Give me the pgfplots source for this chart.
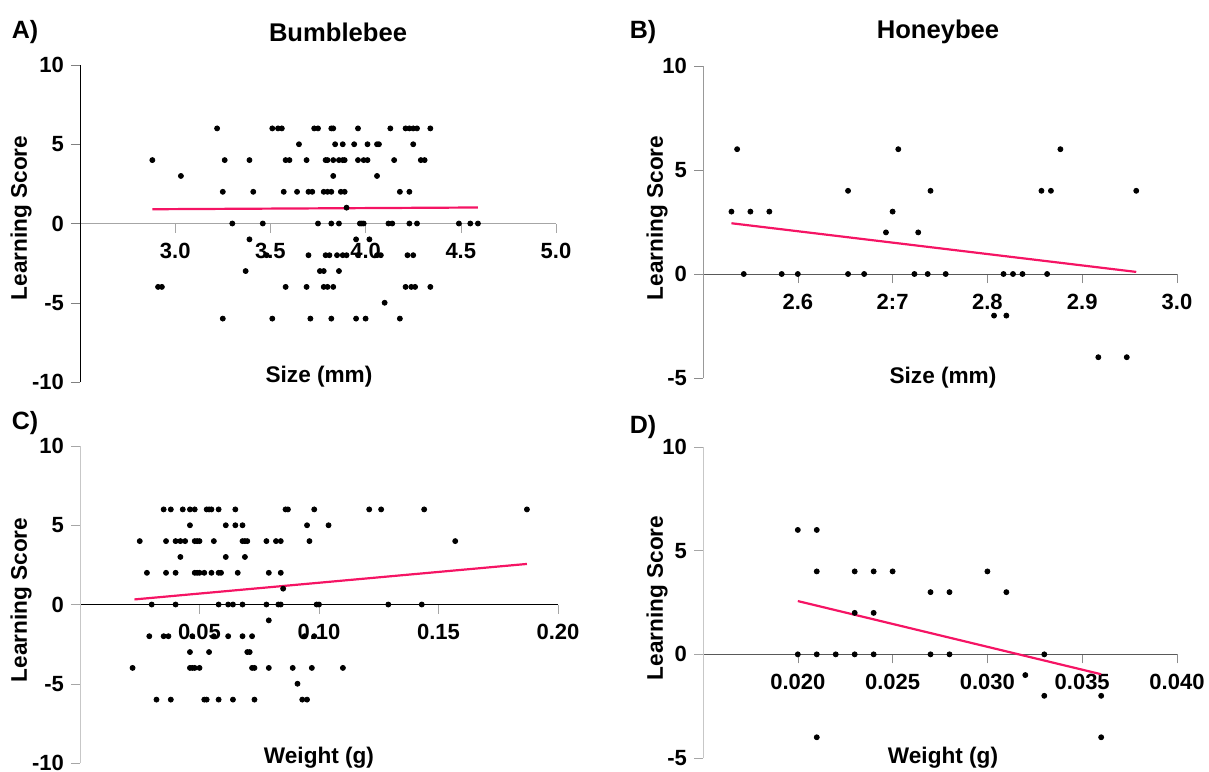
\documentclass[border=0pt]{standalone}
\usepackage{fontspec}
\setmainfont{Liberation Sans}
\usepackage{pgfplots}
\usepackage{pgfplotstable}
\pgfplotsset{compat=1.18}

\definecolor{fitpink}{RGB}{245,20,100}

% bumblebee size vs learning score
\pgfplotstableread{
x y
3.22 6
3.51 6
3.54 6
3.56 6
3.73 6
3.75 6
3.82 6
3.83 6
3.96 6
4.13 6
4.21 6
4.23 6
4.25 6
4.27 6
4.34 6
3.65 5
3.84 5
3.88 5
3.94 5
4.01 5
4.06 5
4.07 5
4.25 5
2.88 4
3.26 4
3.39 4
3.58 4
3.60 4
3.69 4
3.79 4
3.80 4
3.83 4
3.86 4
3.88 4
3.89 4
3.96 4
3.99 4
4.01 4
4.15 4
4.29 4
4.31 4
3.03 3
3.83 3
4.06 3
3.25 2
3.41 2
3.57 2
3.64 2
3.70 2
3.72 2
3.78 2
3.80 2
3.82 2
3.87 2
3.89 2
4.18 2
4.23 2
3.90 1
3.30 0
3.46 0
3.75 0
3.82 0
3.86 0
3.97 0
3.98 0
3.99 0
4.12 0
4.14 0
4.23 0
4.27 0
4.49 0
4.55 0
4.59 0
3.39 -1
3.95 -1
4.02 -1
3.48 -2
3.70 -2
3.79 -2
3.81 -2
3.85 -2
3.88 -2
3.90 -2
3.96 -2
4.06 -2
4.08 -2
4.22 -2
4.25 -2
3.37 -3
3.76 -3
3.78 -3
3.86 -3
2.91 -4
2.93 -4
3.58 -4
3.69 -4
3.78 -4
3.80 -4
3.83 -4
4.21 -4
4.24 -4
4.26 -4
4.34 -4
4.10 -5
3.25 -6
3.51 -6
3.71 -6
3.82 -6
3.95 -6
4.00 -6
4.18 -6
}\bumbleSize

% honeybee size vs learning score
\pgfplotstableread{
x y
2.536 6
2.706 6
2.877 6
2.653 4
2.740 4
2.857 4
2.867 4
2.957 4
2.530 3
2.550 3
2.570 3
2.700 3
2.693 2
2.727 2
2.543 0
2.583 0
2.600 0
2.653 0
2.670 0
2.723 0
2.737 0
2.756 0
2.817 0
2.827 0
2.837 0
2.863 0
2.807 -2
2.820 -2
2.917 -4
2.947 -4
}\honeySize

% bumblebee weight vs learning score
\pgfplotstableread{
x y
0.035 6
0.038 6
0.043 6
0.046 6
0.048 6
0.053 6
0.054 6
0.055 6
0.058 6
0.065 6
0.086 6
0.087 6
0.098 6
0.121 6
0.126 6
0.144 6
0.187 6
0.046 5
0.061 5
0.065 5
0.068 5
0.095 5
0.104 5
0.025 4
0.036 4
0.040 4
0.042 4
0.044 4
0.048 4
0.049 4
0.050 4
0.056 4
0.068 4
0.069 4
0.070 4
0.078 4
0.082 4
0.084 4
0.096 4
0.157 4
0.042 3
0.061 3
0.069 3
0.028 2
0.036 2
0.040 2
0.048 2
0.049 2
0.050 2
0.052 2
0.055 2
0.058 2
0.059 2
0.066 2
0.079 2
0.084 2
0.085 1
0.030 0
0.040 0
0.058 0
0.062 0
0.064 0
0.068 0
0.078 0
0.083 0
0.084 0
0.099 0
0.100 0
0.129 0
0.143 0
0.079 -1
0.029 -2
0.035 -2
0.037 -2
0.047 -2
0.056 -2
0.062 -2
0.068 -2
0.072 -2
0.094 -2
0.098 -2
0.046 -3
0.054 -3
0.070 -3
0.071 -3
0.022 -4
0.046 -4
0.047 -4
0.048 -4
0.050 -4
0.072 -4
0.073 -4
0.079 -4
0.089 -4
0.097 -4
0.110 -4
0.091 -5
0.032 -6
0.038 -6
0.052 -6
0.053 -6
0.058 -6
0.064 -6
0.073 -6
0.093 -6
0.095 -6
}\bumbleWeight

% honeybee weight vs learning score
\pgfplotstableread{
x y
0.020 6
0.021 6
0.021 4
0.023 4
0.024 4
0.025 4
0.030 4
0.027 3
0.028 3
0.031 3
0.023 2
0.024 2
0.020 0
0.021 0
0.022 0
0.023 0
0.024 0
0.027 0
0.028 0
0.033 0
0.032 -1
0.033 -2
0.036 -2
0.021 -4
0.036 -4
}\honeyWeight

\pgfplotsset{
  beeaxis/.style={
    scale only axis, anchor=north west,
    axis x line=middle, axis y line=left,
    axis line style={-},
    tick align=outside,
    major tick length=4.5pt,
    scaled x ticks=false,
    every tick label/.append style={font=\bfseries\fontsize{11}{13}\selectfont},
    xticklabel style={yshift=-2pt},
    clip=false,
  },
  dots/.style={only marks, mark=*, mark size=1.25pt, black},
  fit/.style={fitpink, line width=1.1pt, no marks},
}

\begin{document}
\begin{tikzpicture}
\useasboundingbox (0,0) rectangle (604.5pt,-385.5pt);

% A) bumblebee size
\begin{axis}[beeaxis, at={(40pt,-32.5pt)}, width=238pt, height=158.5pt,
  xmin=2.5, xmax=5, ymin=-10, ymax=10,
  xtick={3,3.5,4,4.5,5}, xticklabels={3.0,3.5,4.0,4.5,5.0},
  ytick={-10,-5,0,5,10}, yticklabels={-10,-5,0,5,10},
  y axis line style={black}, x axis line style={black!35},
  xtick style={black!35}]
\addplot[dots] table {\bumbleSize};
\addplot[fit] coordinates {(2.88,0.90) (4.59,1.01)};
\end{axis}

% B) honeybee size
\begin{axis}[beeaxis, at={(351.5pt,-33pt)}, width=237pt, height=156pt,
  xmin=2.5, xmax=3, ymin=-5, ymax=10,
  xtick={2.6,2.7,2.8,2.9,3.0}, xticklabels={2.6,2:7,2.8,2.9,3.0},
  ytick={-5,0,5,10}, yticklabels={-5,0,5,10},
  y axis line style={black!40}, x axis line style={black!65},
  xtick style={black!45}, ytick style={black!45}]
\addplot[dots] table {\honeySize};
\addplot[fit] coordinates {(2.530,2.44) (2.957,0.10)};
\end{axis}

% C) bumblebee weight
\begin{axis}[beeaxis, at={(40pt,-223pt)}, width=239pt, height=158.5pt,
  xmin=0, xmax=0.2, ymin=-10, ymax=10,
  xtick={0.05,0.10,0.15,0.20}, xticklabels={0.05,0.10,0.15,0.20},
  ytick={-10,-5,0,5,10}, yticklabels={-10,-5,0,5,10},
  y axis line style={black!22}, x axis line style={black},
  xtick style={black!35}, ytick style={black!35}]
\addplot[dots] table {\bumbleWeight};
\addplot[fit] coordinates {(0.0228,0.32) (0.187,2.56)};
\end{axis}

% D) honeybee weight
\begin{axis}[beeaxis, at={(351.5pt,-223.5pt)}, width=237pt, height=155.5pt,
  xmin=0.015, xmax=0.040, ymin=-5, ymax=10,
  xtick={0.020,0.025,0.030,0.035,0.040},
  xticklabels={0.020,0.025,0.030,0.035,0.040},
  ytick={-5,0,5,10}, yticklabels={-5,0,5,10},
  y axis line style={black!22}, x axis line style={black!65},
  xtick style={black!45}, ytick style={black!35}]
\addplot[dots] table {\honeyWeight};
\addplot[fit] coordinates {(0.020,2.57) (0.036,-0.96)};
\end{axis}

% panel letters and titles
\begin{scope}[every node/.style={font=\bfseries\fontsize{12.5}{15}\selectfont}]
\node at (12.5pt,-16pt) {A)};
\node at (321.5pt,-16pt) {B)};
\node at (12.5pt,-211.5pt) {C)};
\node at (321.5pt,-213.5pt) {D)};
\node[font=\bfseries\fontsize{12.8}{15}\selectfont] at (169pt,-16pt) {Bumblebee};
\node[font=\bfseries\fontsize{12.8}{15}\selectfont] at (469pt,-16pt) {Honeybee};
\end{scope}

% axis titles
\begin{scope}[every node/.style={font=\bfseries\fontsize{11.3}{13}\selectfont}]
\node[rotate=90] at (10.5pt,-109pt) {Learning Score};
\node[rotate=90] at (328.5pt,-109pt) {Learning Score};
\node[rotate=90] at (10.5pt,-300pt) {Learning Score};
\node[rotate=90] at (328.5pt,-299pt) {Learning Score};
\node at (159.5pt,-188.5pt) {Size (mm)};
\node at (471.5pt,-189pt) {Size (mm)};
\node at (159.5pt,-379pt) {Weight (g)};
\node at (471.5pt,-379pt) {Weight (g)};
\end{scope}
\end{tikzpicture}
\end{document}
